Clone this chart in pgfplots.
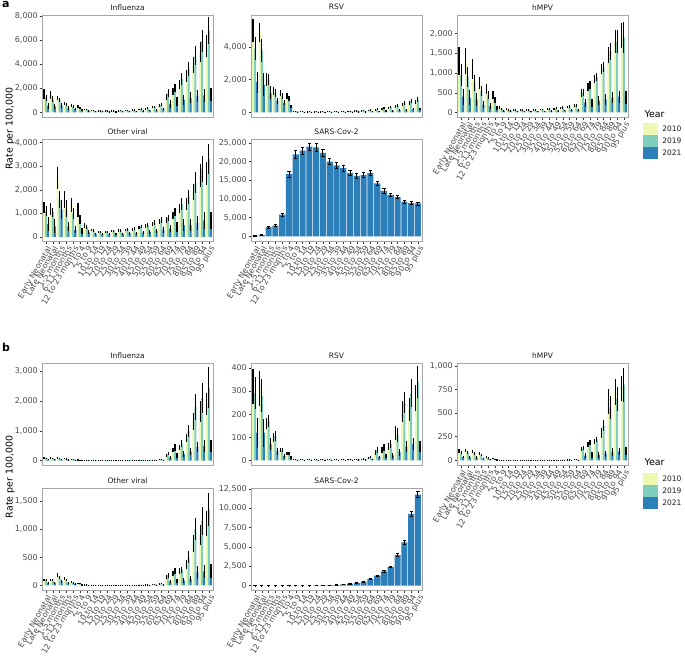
\documentclass[border=0pt]{standalone}
\usepackage{fontspec}
\setmainfont{DejaVu Sans}
\usepackage{pgfplots}
\usepackage{pgfplotstable}
\pgfplotsset{compat=1.18}
\definecolor{c2010}{HTML}{EDF8B1}
\definecolor{c2019}{HTML}{7FCDBB}
\definecolor{c2021}{HTML}{2C7FB8}
\definecolor{g30}{HTML}{4D4D4D}
\definecolor{g20}{HTML}{333333}
\definecolor{g10}{HTML}{1A1A1A}
\definecolor{bordc}{HTML}{A6A6A6}
\newcommand\fs{\fontsize{7.5}{9}\selectfont}
\newcommand\ft{\fontsize{8}{9.5}\selectfont}
\newcommand\fl{\fontsize{9.4}{11}\selectfont}

% ---------------- panel a ----------------
\pgfplotstableread{
x a ea b eb c ec
0 1500 400 1200 250 550 250
1 1450 350 1100 250 500 200
2 1200 150 1050 150 550 200
3 750 150 650 100 350 150
4 600 130 480 100 280 100
5 450 120 350 80 180 60
6 260 60 250 60 120 40
7 180 40 170 40 90 30
8 150 35 140 35 80 25
9 140 35 140 35 70 25
10 140 35 140 35 70 25
11 150 35 160 35 80 25
12 170 40 180 40 90 30
13 200 45 210 45 100 35
14 250 55 270 55 130 40
15 320 70 340 70 160 55
16 420 90 450 90 200 70
17 560 110 620 120 280 100
18 1300 250 1600 300 700 300
19 1700 300 2000 350 900 350
20 2300 400 2800 500 1050 400
21 3000 500 3600 600 1200 450
22 3900 650 4700 800 1350 500
23 5000 800 5900 900 1400 500
24 5500 900 6800 1100 1500 550
}\tInfA
\pgfplotstableread{
x a ea b eb c ec
0 5000 700 3900 700 1850 650
1 4900 600 3800 700 1700 700
2 2000 400 2000 350 1200 400
3 1300 250 1200 250 700 200
4 1200 200 1000 200 600 150
5 1000 200 850 180 350 100
6 90 20 80 20 40 10
7 60 15 60 15 30 10
8 50 12 55 12 25 8
9 50 12 55 12 25 8
10 50 12 55 12 25 8
11 55 12 60 12 28 8
12 60 14 70 15 30 9
13 70 15 80 18 35 10
14 80 18 90 20 40 12
15 95 20 110 25 45 14
16 110 25 130 30 50 16
17 140 30 160 35 60 20
18 170 40 200 45 75 25
19 210 45 250 55 90 30
20 270 55 320 70 110 35
21 350 70 420 90 130 45
22 480 90 560 110 160 55
23 580 110 680 130 180 60
24 650 120 780 150 200 70
}\tRSVA
\pgfplotstableread{
x a ea b eb c ec
0 1300 350 950 280 400 200
1 1300 330 900 260 380 200
2 1100 250 750 200 330 170
3 750 150 550 130 200 90
4 600 120 450 100 170 70
5 450 100 320 80 120 50
6 130 30 100 25 50 15
7 90 20 75 18 40 12
8 75 18 65 15 35 10
9 70 18 65 15 30 10
10 70 18 65 15 30 10
11 75 18 70 15 32 10
12 80 20 80 18 35 10
13 90 22 90 20 40 12
14 100 25 105 25 45 14
15 120 28 130 30 55 16
16 140 30 150 32 60 18
17 170 35 180 40 70 20
18 500 100 500 90 250 100
19 650 100 700 110 250 100
20 850 100 900 110 300 120
21 1100 120 1150 130 330 130
22 1450 200 1550 220 380 150
23 1800 300 1800 300 400 150
24 1950 320 1900 400 380 170
}\thMPVA
\pgfplotstableread{
x a ea b eb c ec
0 1250 250 1100 200 550 300
1 1200 250 1050 200 450 300
2 2500 450 1600 350 1150 400
3 1600 350 1200 350 450 200
4 1350 300 1000 250 300 150
5 1150 300 750 200 250 120
6 500 100 430 80 200 80
7 300 60 270 50 140 50
8 230 45 230 45 120 40
9 220 45 230 45 110 40
10 240 45 250 45 120 40
11 270 50 280 50 130 45
12 300 55 320 60 150 50
13 330 60 360 65 160 55
14 400 70 440 75 190 65
15 450 80 500 85 210 70
16 560 90 620 100 260 90
17 650 100 720 110 300 110
18 720 120 820 130 350 150
19 900 150 1050 170 420 200
20 1200 200 1400 250 500 250
21 1400 250 1700 300 500 250
22 1900 350 2300 450 600 300
23 2600 500 2900 550 700 350
24 2700 500 3300 650 700 350
}\tOthA
\pgfplotstableread{
x c ec
0 150 50
1 350 80
2 2500 250
3 2900 250
4 5800 400
5 16700 800
6 21900 1000
7 22900 1000
8 24000 1000
9 23800 1000
10 22300 900
11 20000 800
12 19000 800
13 18300 800
14 17000 700
15 16200 700
16 16400 700
17 17000 700
18 14200 600
19 12200 550
20 11100 500
21 10500 450
22 9300 400
23 8900 400
24 8800 400
}\tSARSA

% ---------------- panel b ----------------
\pgfplotstableread{
x a ea b eb c ec
0 90 20 80 20 40 15
1 100 20 80 18 40 15
2 90 18 70 15 35 12
3 70 15 60 12 30 10
4 40 8 35 8 20 6
5 30 6 25 6 12 4
6 20 5 18 4 10 3
7 20 5 18 4 10 3
8 18 4 16 4 9 3
9 18 4 16 4 9 3
10 18 4 16 4 9 3
11 18 4 17 4 9 3
12 20 4 18 4 10 3
13 20 4 19 4 10 3
14 22 5 20 5 11 3
15 24 5 22 5 12 4
16 28 6 26 6 14 4
17 45 10 55 12 20 8
18 170 40 220 50 100 50
19 350 80 450 120 180 80
20 450 80 570 120 220 90
21 750 140 1000 200 300 130
22 1300 280 1800 450 450 180
23 1650 350 2100 500 480 200
24 1900 380 2450 700 500 200
}\tInfB
\pgfplotstableread{
x a ea b eb c ec
0 320 75 290 70 120 65
1 310 75 280 70 120 60
2 160 25 170 25 70 25
3 100 20 105 20 40 15
4 45 10 45 10 20 8
5 30 8 30 8 12 5
6 4 1 4 1 2 1
7 4 1 4 1 2 1
8 4 1 4 1 2 1
9 4 1 4 1 2 1
10 4 1 4 1 2 1
11 4 1 4 1 2 1
12 4 1 4 1 2 1
13 5 1 5 1 2 1
14 5 1 5 1 2 1
15 5 1 6 2 3 1
16 6 2 7 2 3 1
17 12 4 15 5 6 2
18 35 10 45 12 15 6
19 45 12 55 15 18 8
20 60 15 70 18 22 10
21 120 30 110 30 35 15
22 210 45 250 45 60 25
23 220 50 290 60 70 25
24 270 55 340 70 60 25
}\tRSVB
\pgfplotstableread{
x a ea b eb c ec
0 100 20 80 15 35 15
1 105 20 80 15 35 15
2 95 18 75 15 30 12
3 70 15 55 12 20 8
4 35 8 30 6 12 5
5 20 5 15 4 8 3
6 6 2 5 2 3 1
7 4 1 4 1 2 1
8 4 1 4 1 2 1
9 4 1 4 1 2 1
10 4 1 4 1 2 1
11 4 1 4 1 2 1
12 5 1 5 1 2 1
13 5 1 5 1 2 1
14 6 2 6 2 3 1
15 7 2 7 2 3 1
16 8 2 8 2 4 1
17 10 3 12 3 5 2
18 120 20 130 20 50 30
19 170 25 190 25 55 30
20 200 28 220 30 60 30
21 290 50 370 60 70 30
22 620 130 560 120 90 40
23 720 140 650 130 95 40
24 760 130 800 180 100 45
}\thMPVB
\pgfplotstableread{
x a ea b eb c ec
0 90 20 90 20 50 15
1 95 20 90 20 45 15
2 180 35 140 30 70 25
3 120 25 100 20 45 15
4 60 12 50 10 25 10
5 40 10 35 8 15 5
6 15 4 13 3 7 2
7 12 3 11 3 6 2
8 10 3 10 3 5 2
9 10 3 10 3 5 2
10 10 3 10 3 5 2
11 10 3 10 3 5 2
12 10 3 10 3 5 2
13 10 3 10 3 5 2
14 12 3 12 3 6 2
15 15 4 15 4 7 2
16 20 5 22 5 10 3
17 30 8 35 8 15 5
18 150 40 180 45 70 30
19 210 50 250 55 85 35
20 260 50 280 55 90 40
21 380 80 500 110 110 50
22 750 150 1000 200 230 110
23 900 180 1150 250 250 120
24 1100 220 1350 300 260 120
}\tOthB
\pgfplotstableread{
x c ec
0 20 5
1 15 5
2 10 3
3 10 3
4 10 3
5 8 2
6 8 2
7 10 3
8 15 4
9 25 5
10 40 8
11 70 12
12 110 15
13 170 20
14 250 25
15 350 35
16 520 45
17 880 60
18 1300 80
19 1850 100
20 2450 120
21 3950 180
22 5600 230
23 9300 330
24 11800 400
}\tSARSB

\pgfplotsset{
  facet/.style={
    scale only axis, width=171pt, height=102pt,
    xmin=-0.6, xmax=24.6,
    axis line style={draw=bordc, line width=0.6pt},
    tick pos=left, tick align=outside,
    major tick length=2.5pt,
    tick style={draw=g20, line width=0.5pt},
    yticklabel style={font=\ft, text=g30, inner sep=1.5pt},
    scaled y ticks=false,
    /pgf/number format/1000 sep={,},
    /pgf/number format/assume math mode=true,
    title style={font=\fs, text=g10, anchor=base, yshift=-1pt},
    xtick=\empty,
  },
  agex/.style={
    xtick={0,...,24},
    xticklabels={Early Neonatal, Late Neonatal, 1-5 months, 6-11 months, 12 to 23 months, 2 to 4, 5 to 9, 10 to 14, 15 to 19, 20 to 24, 25 to 29, 30 to 34, 35 to 39, 40 to 44, 45 to 49, 50 to 54, 55 to 59, 60 to 64, 65 to 69, 70 to 74, 75 to 79, 80 to 84, 85 to 89, 90 to 94, 95 plus},
    xticklabel style={font=\ft, text=g30, rotate=60, anchor=north east, inner sep=1pt},
  },
  barbase/.style={ybar, bar width=0.3, bar shift=0pt, draw=none,
    /pgfplots/error bars/y dir=both, /pgfplots/error bars/y explicit,
    /pgfplots/error bars/error mark=none,
    /pgfplots/error bars/error bar style={draw=black, line width=1.1pt}},
  b2010/.style={fill=c2010, barbase, legend image code/.code={\fill[c2010] (0pt,-6pt) rectangle (15pt,6pt);}},
  b2019/.style={fill=c2019, barbase, legend image code/.code={\fill[c2019] (0pt,-6pt) rectangle (15pt,6pt);}},
  b2021/.style={fill=c2021, barbase, legend image code/.code={\fill[c2021] (0pt,-6pt) rectangle (15pt,6pt);}},
  sarsbar/.style={fill=c2021, ybar, bar width=0.9, bar shift=0pt, draw=none,
    /pgfplots/error bars/y dir=both, /pgfplots/error bars/y explicit,
    /pgfplots/error bars/error mark options={rotate=90, draw=black, line width=0.6pt, mark size=1.6pt},
    /pgfplots/error bars/error bar style={draw=black, line width=1pt}},
  yearleg/.style={legend cell align=left,
    legend style={at={(#1)}, anchor=north west, draw=none, fill=none, font=\fs, text=g10,
      inner sep=0pt, row sep=0pt, nodes={inner sep=0pt},
      /tikz/every odd column/.append style={column sep=4pt}}},
}
\newcommand\threebars[1]{%
  \addplot[b2010] table[x expr=\thisrow{x}-0.3, y=a, y error=ea]{#1};
  \addplot[b2019] table[x=x, y=b, y error=eb]{#1};
  \addplot[b2021] table[x expr=\thisrow{x}+0.3, y=c, y error=ec]{#1};
}

\begin{document}
\begin{tikzpicture}
\useasboundingbox (0,0) rectangle (685pt,-656pt);

% ===== panel a =====
\node[anchor=north west, inner sep=0pt, font=\bfseries\fontsize{11}{12}\selectfont] at (2pt,-1pt) {a};
\node[rotate=90, font=\fl] at (10pt,-128.5pt) {Rate per 100,000};

\begin{axis}[facet, at={(42pt,-117pt)}, anchor=south west, title={Influenza},
  ymin=-384, ymax=8072, ytick={0,2000,4000,6000,8000}]
\threebars{\tInfA}
\end{axis}

\begin{axis}[facet, at={(251pt,-117pt)}, anchor=south west, title={RSV},
  ymin=-285, ymax=5965, ytick={0,2000,4000}]
\threebars{\tRSVA}
\end{axis}

\begin{axis}[facet, agex, at={(457pt,-117pt)}, anchor=south west, title={hMPV},
  ymin=-115, ymax=2475, ytick={0,500,1000,1500,2000},
  yearleg={1.088,-0.059}]
\threebars{\thMPVA}
\legend{2010,2019,2021}
\end{axis}
\node[anchor=west, font=\fl] at (641pt,-114pt) {Year};

\begin{axis}[facet, agex, at={(42pt,-241pt)}, anchor=south west, title={Other viral},
  ymin=-170, ymax=4155, ytick={0,1000,2000,3000,4000}]
\threebars{\tOthA}
\end{axis}

\begin{axis}[facet, agex, at={(251pt,-241pt)}, anchor=south west, title={SARS-Cov-2},
  ymin=-1240, ymax=26040, ytick={0,5000,10000,15000,20000,25000}]
\addplot[sarsbar] table[x=x, y=c, y error=ec]{\tSARSA};
\end{axis}

% ===== panel b =====
\node[anchor=north west, inner sep=0pt, font=\bfseries\fontsize{11}{12}\selectfont] at (2pt,-343pt) {b};
\node[rotate=90, font=\fl] at (10pt,-477pt) {Rate per 100,000};

\begin{axis}[facet, at={(42pt,-465pt)}, anchor=south west, title={Influenza},
  ymin=-150, ymax=3275, ytick={0,1000,2000,3000}]
\threebars{\tInfB}
\end{axis}

\begin{axis}[facet, at={(251pt,-465pt)}, anchor=south west, title={RSV},
  ymin=-20, ymax=421, ytick={0,100,200,300,400}]
\threebars{\tRSVB}
\end{axis}

\begin{axis}[facet, agex, at={(457pt,-465pt)}, anchor=south west, title={hMPV},
  ymin=-49, ymax=1029, ytick={0,250,500,750,1000},
  yearleg={1.088,-0.078}]
\threebars{\thMPVB}
\legend{2010,2019,2021}
\end{axis}
\node[anchor=west, font=\fl] at (641pt,-462.5pt) {Year};

\begin{axis}[facet, agex, at={(42pt,-590pt)}, anchor=south west, title={Other viral},
  ymin=-82, ymax=1732, ytick={0,500,1000,1500}]
\threebars{\tOthB}
\end{axis}

\begin{axis}[facet, agex, at={(251pt,-590pt)}, anchor=south west, title={SARS-Cov-2},
  ymin=-560, ymax=12640, ytick={0,2500,5000,7500,10000,12500}]
\addplot[sarsbar] table[x=x, y=c, y error=ec]{\tSARSB};
\end{axis}
\end{tikzpicture}
\end{document}
